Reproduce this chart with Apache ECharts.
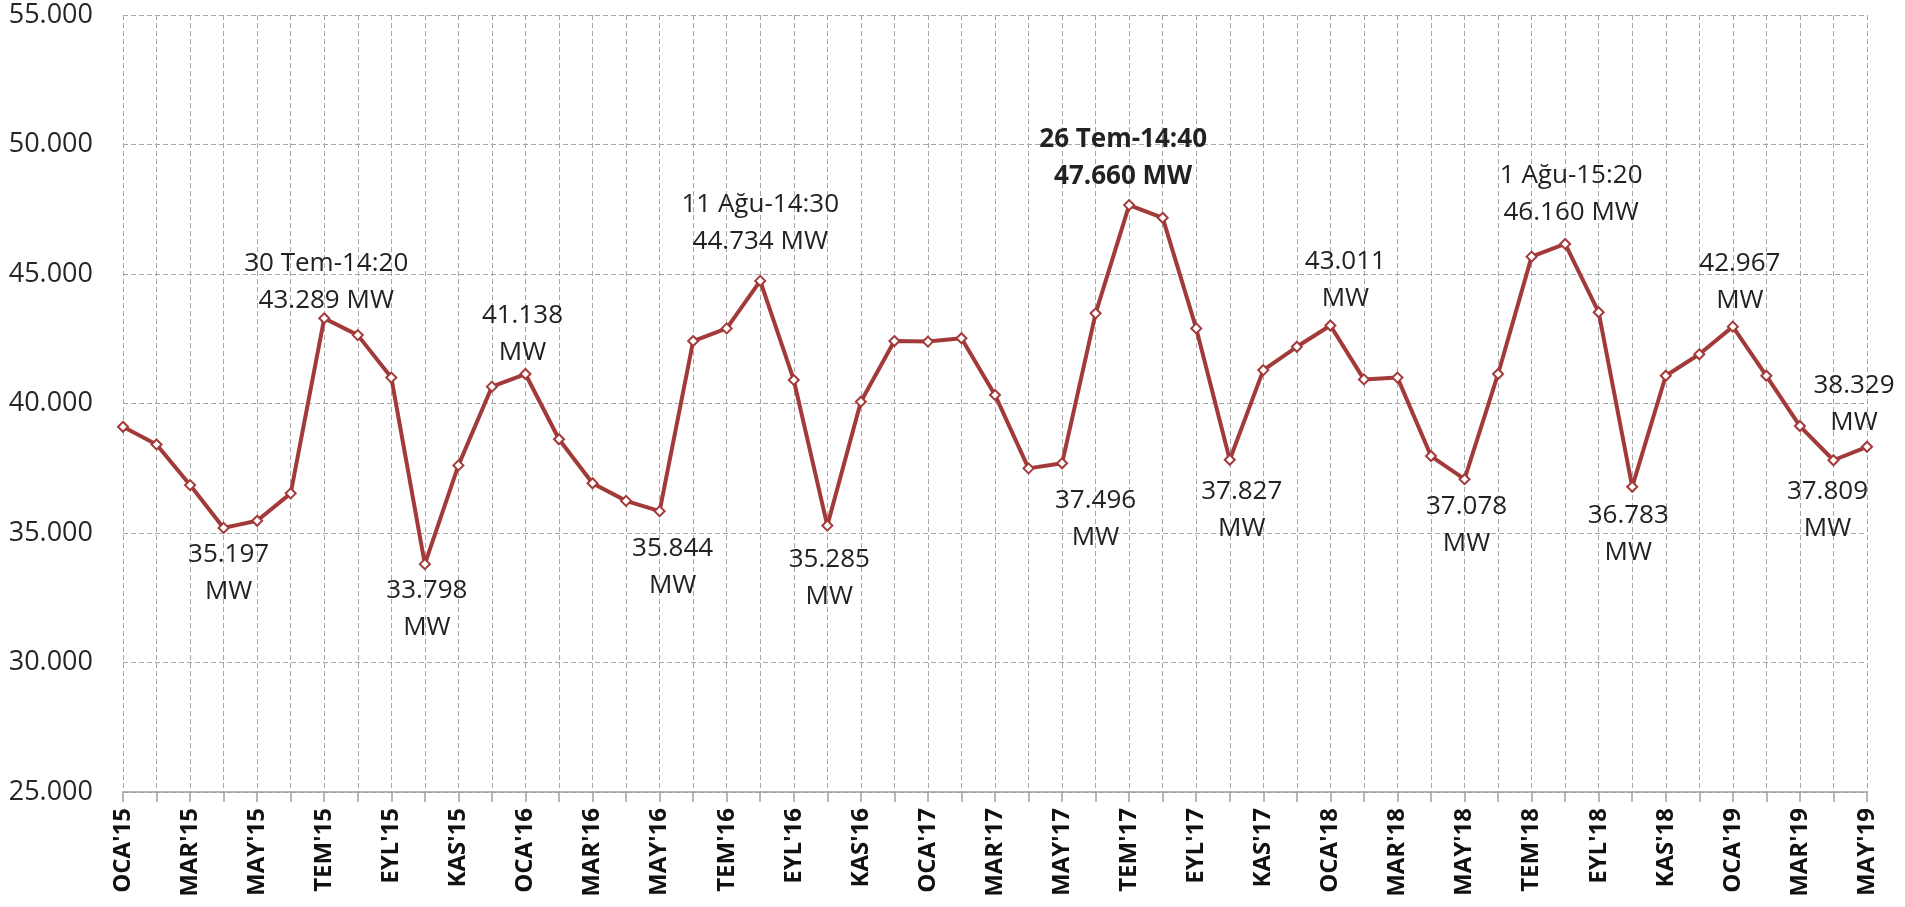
<!DOCTYPE html>
<html>
<head>
<meta charset="utf-8">
<script src="https://cdn.jsdelivr.net/npm/echarts@6/dist/echarts.min.js"></script>
<style>
html,body{margin:0;padding:0;background:#fff;}
#chart{width:1905px;height:907px;}
</style>
</head>
<body>
<div id="chart"></div>
<script>
// Categories (months, Turkish abbreviations)
const months = ['OCA','ŞUB','MAR','NİS','MAY','HAZ','TEM','AĞU','EYL','EKİ','KAS','ARA'];
const years = ['15','16','17','18','19'];
const categories = [];
for (const y of years) for (const m of months) categories.push(m + "'" + y);
categories.length = 53; // OCA'15 .. MAY'19

// Monthly peak load (MW)
const peakLoad = [
  39100, 38420, 36850, 35197, 35470, 36530, 43289, 42640, 41000, 33798, 37610, 40650,
  41138, 38620, 36920, 36240, 35844, 42410, 42900, 44734, 40910, 35285, 40070, 42410,
  42390, 42520, 40330, 37496, 37690, 43480, 47660, 47170, 42900, 37827, 41290, 42190,
  43011, 40930, 41000, 37970, 37078, 41140, 45670, 46160, 43520, 36783, 41070, 41900,
  42967, 41070, 39130, 37809, 38329
];

// Annotated points: index -> date/time text (empty = value only)
const annotatedIdx = [3, 6, 9, 12, 16, 19, 21, 27, 30, 33, 36, 40, 43, 45, 48, 51, 52];
const annotationDates = {6: '30 Tem-14:20', 19: '11 Ağu-14:30', 30: '26 Tem-14:40', 43: '1 Ağu-15:20'};
const boldIdx = [30];

// Y axis ticks
const yMin = 25000, yMax = 55000, yStep = 5000;

// label placement (layout only)
const place = {
  3:  ['bottom', 5, -2.5],
  6:  ['top', 2, 11.5],
  9:  ['bottom', 2, -3.5],
  12: ['top', -3, 8.5],
  16: ['bottom', 13, 7.5],
  19: ['top', 0, -9.5],
  21: ['bottom', 2, 4.5],
  27: ['bottom', 67, 2.5],
  30: ['top', -6, 0.5],
  33: ['bottom', 12, 2.5],
  36: ['top', 15, 2.5],
  40: ['bottom', 2, -2.5],
  43: ['top', 6, -1.5],
  45: ['bottom', -4, -0.5],
  48: ['top', 7, 3.5],
  51: ['bottom', -6, 1.5],
  52: ['top', -13, 5.5]
};

const FONT = '"Open Sans", "Noto Sans", sans-serif';
const fmt = v => (v / 1000).toFixed(3);

const seriesData = peakLoad.map((v, i) => {
  if (!annotatedIdx.includes(i)) return v;
  const p = place[i];
  const bold = boldIdx.includes(i);
  let text;
  if (annotationDates[i]) text = annotationDates[i] + '\n' + fmt(v) + ' MW';
  else text = fmt(v) + '\nMW';
  return {
    value: v,
    label: {
      show: true,
      position: p[0],
      distance: 5,
      offset: [p[1], p[2]],
      formatter: text,
      fontFamily: FONT,
      fontSize: 26,
      lineHeight: 37,
      fontWeight: bold ? 'bold' : 'normal',
      color: '#222'
    }
  };
});

const chart = echarts.init(document.getElementById('chart'), null, {renderer: 'canvas'});
chart.setOption({
  backgroundColor: '#fff',
  animation: false,
  grid: {left: 123, right: 38, top: 15, bottom: 115, containLabel: false},
  xAxis: {
    type: 'category',
    data: categories,
    boundaryGap: false,
    axisLine: {show: true, lineStyle: {color: '#a0a0a0', width: 1.5}},
    axisTick: {show: true, interval: 0, length: 10, lineStyle: {color: '#a0a0a0', width: 1.5}},
    axisLabel: {
      interval: 1, rotate: 90, margin: 16,
      fontFamily: FONT, fontSize: 24, fontWeight: 'bold', color: '#111'
    },
    splitLine: {show: true, interval: 0, lineStyle: {color: '#a6a6a6', type: [5, 3], width: 1}}
  },
  yAxis: {
    type: 'value',
    min: yMin, max: yMax, interval: yStep,
    axisLine: {show: false},
    axisTick: {show: false},
    axisLabel: {
      formatter: fmt, margin: 30,
      fontFamily: FONT, fontSize: 27, color: '#262626'
    },
    splitLine: {show: true, lineStyle: {color: '#a6a6a6', type: [5, 3], width: 1}}
  },
  series: [{
    type: 'line',
    data: seriesData,
    symbol: 'diamond',
    symbolSize: 10,
    showAllSymbol: true,
    lineStyle: {color: '#A33A3A', width: 4},
    itemStyle: {color: '#fff', borderColor: '#A33A3A', borderWidth: 2},
    label: {show: false},
    z: 3
  }]
});
</script>
</body>
</html>
